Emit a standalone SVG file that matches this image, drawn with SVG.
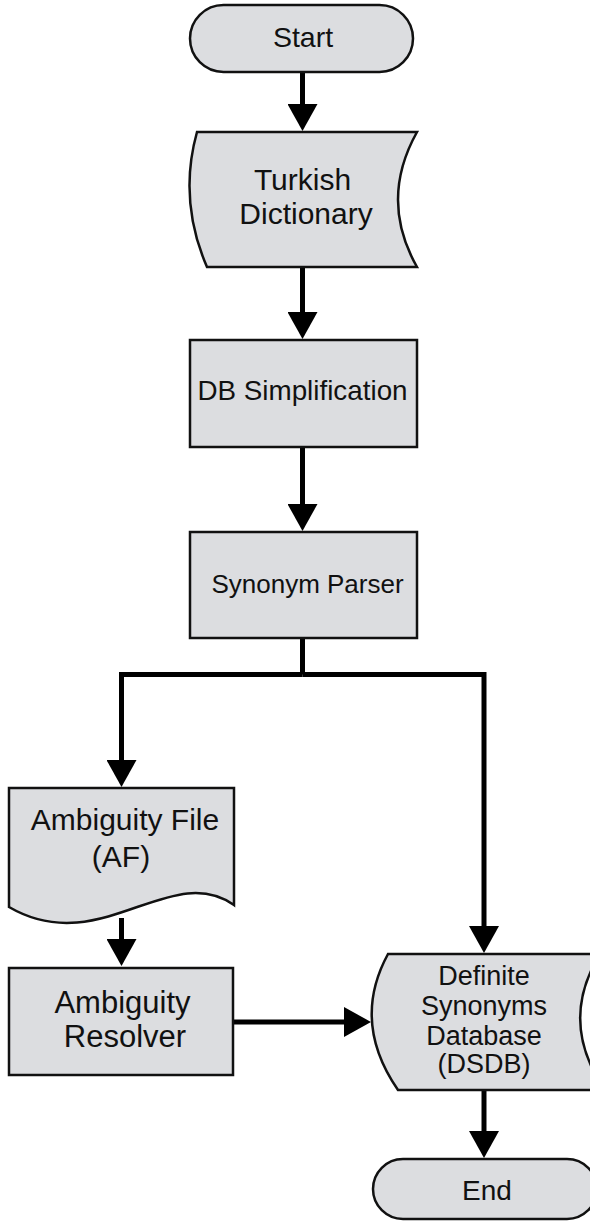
<svg xmlns="http://www.w3.org/2000/svg" width="590" height="1221" viewBox="0 0 590 1221">
<style>
.n{fill:#dcdde0;stroke:#111;stroke-width:2.5;stroke-linejoin:miter}
.t{font-family:"Liberation Sans",Arial,sans-serif;fill:#111;text-anchor:middle}
.c{fill:none;stroke:#000;stroke-width:5;stroke-linejoin:miter;marker-end:url(#ah)}
.s{fill:none;stroke:#000;stroke-width:5}
</style>
<defs>
<marker id="ah" markerUnits="userSpaceOnUse" viewBox="0 0 27 30" refX="17" refY="15" markerWidth="27" markerHeight="30" orient="auto">
<path d="M0,0 L27,15 L0,30 Z" fill="#000"/>
</marker>
</defs>
<rect width="590" height="1221" fill="#fff"/>
<g id="connectors">
<path class="c" d="M302.5,72 V121"/>
<path class="c" d="M302.5,267 V329"/>
<path class="c" d="M302.5,447 V521"/>
<path class="s" d="M302.5,638 V674.5"/>
<path class="c" d="M302.5,674.5 H121.5 V777"/>
<path class="c" d="M302.5,674.5 H484 V943"/>
<path class="c" d="M121.5,918 V956"/>
<path class="c" d="M233,1022 H361"/>
<path class="c" d="M484,1090 V1148"/>
</g>
<g id="start">
<rect class="n" x="190" y="5" width="223" height="67" rx="33.5"/>
<text class="t" x="303" y="47" font-size="28.5">Start</text>
</g>
<g id="turkish-dictionary">
<path class="n" d="M197,132 H417 Q379,200 417,267 H207 Q178,200 197,132 Z"/>
<text class="t" x="302.5" y="190" font-size="30">Turkish</text>
<text class="t" x="306" y="224" font-size="30">Dictionary</text>
</g>
<g id="db-simplification">
<rect class="n" x="190" y="340" width="227" height="107"/>
<text class="t" x="302.5" y="400" font-size="27.8">DB Simplification</text>
</g>
<g id="synonym-parser">
<rect class="n" x="190" y="532" width="227" height="106"/>
<text class="t" x="307.5" y="593" font-size="26">Synonym Parser</text>
</g>
<g id="ambiguity-file">
<path class="n" d="M9,788 H234 V905 C170,860 100,960 9,907 Z"/>
<text class="t" x="125" y="830" font-size="30">Ambiguity File</text>
<text class="t" x="121" y="867" font-size="30">(AF)</text>
</g>
<g id="ambiguity-resolver">
<rect class="n" x="9" y="968" width="224" height="107"/>
<text class="t" x="122.5" y="1013" font-size="31">Ambiguity</text>
<text class="t" x="125" y="1047" font-size="31">Resolver</text>
</g>
<g id="dsdb">
<path class="n" d="M388,954 H600 Q558,1022 605,1090 H398 Q351,1022 388,954 Z"/>
<text class="t" x="484" y="985" font-size="27">Definite</text>
<text class="t" x="484" y="1015" font-size="27">Synonyms</text>
<text class="t" x="484" y="1045" font-size="27">Database</text>
<text class="t" x="484" y="1073" font-size="27">(DSDB)</text>
</g>
<g id="end">
<rect class="n" x="373" y="1159" width="224" height="60" rx="30"/>
<text class="t" x="487" y="1200" font-size="28">End</text>
</g>
</svg>
